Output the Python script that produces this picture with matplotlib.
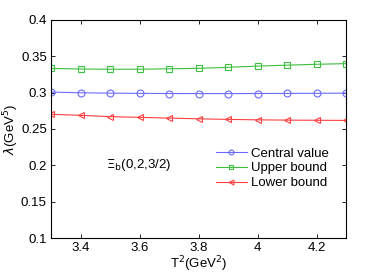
import matplotlib.pyplot as plt

T2 = [3.3, 3.4, 3.5, 3.6, 3.7, 3.8, 3.9, 4.0, 4.1, 4.2, 4.3]
central = [0.3008, 0.2998, 0.2993, 0.2990, 0.2988, 0.2987, 0.2987, 0.2988, 0.2990, 0.2991, 0.2993]
upper = [0.3333, 0.3325, 0.3322, 0.3322, 0.3328, 0.3334, 0.3348, 0.3365, 0.3378, 0.3390, 0.3399]
lower = [0.2702, 0.2688, 0.2670, 0.2660, 0.2650, 0.2640, 0.2632, 0.2626, 0.2622, 0.2620, 0.2618]

plt.rcParams['font.family'] = ['Liberation Sans', 'DejaVu Sans']
plt.rcParams['font.size'] = 9.5

fig = plt.figure(figsize=(3.82, 2.73), dpi=100)
ax = fig.add_axes([0.1335, 0.128, 0.7725, 0.799])

ax.plot(T2, central, color='#6b6bff', marker='o', mfc='none', ms=5, lw=0.8,
        mew=0.8, label='Central value')
ax.plot(T2, upper, color='#3fbf3f', marker='s', mfc='none', ms=4.5, lw=0.8,
        mew=0.8, label='Upper bound')
ax.plot(T2, lower, color='#ff4040', marker='<', mfc='none', ms=5, lw=0.8,
        mew=0.8, label='Lower bound')

ax.set_xlim(3.3, 4.3)
ax.set_ylim(0.1, 0.4)
ax.set_xticks([3.4, 3.6, 3.8, 4.0, 4.2])
ax.set_xticklabels(['3.4', '3.6', '3.8', '4', '4.2'])
ax.set_yticks([0.1, 0.15, 0.2, 0.25, 0.3, 0.35, 0.4])
ax.set_yticklabels(['0.1', '0.15', '0.2', '0.25', '0.3', '0.35', '0.4'])
ax.tick_params(direction='in', top=True, right=True, length=3, width=0.6, pad=3)
for s in ax.spines.values():
    s.set_linewidth(0.8)

ax.set_xlabel(r'T$^2$(GeV$^2$)', labelpad=0)
ax.set_ylabel(r'$\lambda$(GeV$^5$)', labelpad=0)
ax.text(3.487, 0.2, r'$\Xi_{\rm b}$(0,2,3/2)', va='center', ha='left')

ax.legend(loc='upper left', bbox_to_anchor=(0.54, 0.44), frameon=False,
          handlelength=2.4, handletextpad=0.3, labelspacing=0.2,
          borderaxespad=0, markerscale=0.7)

fig.savefig('out.png', dpi=100)
